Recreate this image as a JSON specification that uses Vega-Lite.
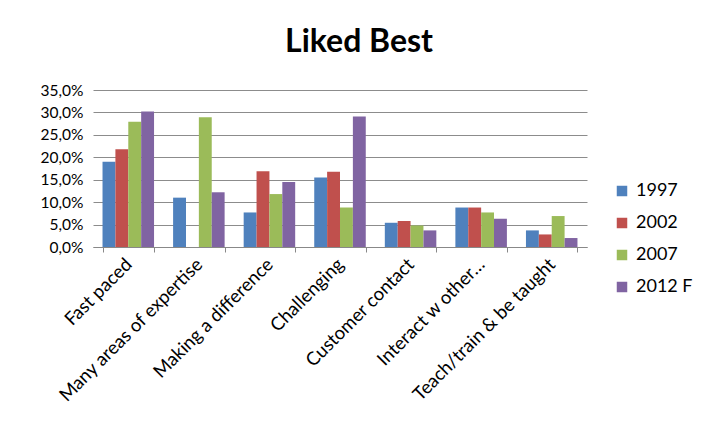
{
  "$schema": "https://vega.github.io/schema/vega-lite/v6.json",
  "width": 494,
  "height": 157,
  "autosize": {"type": "none"},
  "padding": {"left": 93, "top": 90, "right": 126, "bottom": 179},
  "background": "white",
  "config": {
    "font": "Lato",
    "view": {"stroke": null},
    "locale": {"number": {"decimal": ",", "thousands": ".", "grouping": [3], "currency": ["", " €"]}}
  },
  "title": {"text": "Liked Best", "fontSize": 32, "fontWeight": "bold", "font": "Lato", "color": "#000000", "offset": 24, "dx": 19},
  "data": {"values": [
    {"cat": "Fast paced", "year": "1997", "v": 0.190},
    {"cat": "Fast paced", "year": "2002", "v": 0.218},
    {"cat": "Fast paced", "year": "2007", "v": 0.279},
    {"cat": "Fast paced", "year": "2012 F", "v": 0.302},
    {"cat": "Many areas of expertise", "year": "1997", "v": 0.110},
    {"cat": "Many areas of expertise", "year": "2002", "v": 0.0},
    {"cat": "Many areas of expertise", "year": "2007", "v": 0.289},
    {"cat": "Many areas of expertise", "year": "2012 F", "v": 0.122},
    {"cat": "Making a difference", "year": "1997", "v": 0.077},
    {"cat": "Making a difference", "year": "2002", "v": 0.169},
    {"cat": "Making a difference", "year": "2007", "v": 0.118},
    {"cat": "Making a difference", "year": "2012 F", "v": 0.145},
    {"cat": "Challenging", "year": "1997", "v": 0.155},
    {"cat": "Challenging", "year": "2002", "v": 0.168},
    {"cat": "Challenging", "year": "2007", "v": 0.088},
    {"cat": "Challenging", "year": "2012 F", "v": 0.291},
    {"cat": "Customer contact", "year": "1997", "v": 0.054},
    {"cat": "Customer contact", "year": "2002", "v": 0.058},
    {"cat": "Customer contact", "year": "2007", "v": 0.048},
    {"cat": "Customer contact", "year": "2012 F", "v": 0.037},
    {"cat": "Interact w other…", "year": "1997", "v": 0.088},
    {"cat": "Interact w other…", "year": "2002", "v": 0.088},
    {"cat": "Interact w other…", "year": "2007", "v": 0.077},
    {"cat": "Interact w other…", "year": "2012 F", "v": 0.063},
    {"cat": "Teach/train & be taught", "year": "1997", "v": 0.037},
    {"cat": "Teach/train & be taught", "year": "2002", "v": 0.028},
    {"cat": "Teach/train & be taught", "year": "2007", "v": 0.069},
    {"cat": "Teach/train & be taught", "year": "2012 F", "v": 0.020}
  ]},
  "mark": {"type": "bar"},
  "encoding": {
    "x": {
      "field": "cat", "type": "nominal", "sort": null, "title": null,
      "scale": {"paddingInner": 0.27, "paddingOuter": 0.135},
      "axis": {"labelAngle": -45, "labelAlign": "right", "labelBaseline": "middle", "labelFontSize": 18.5, "labelColor": "#000000", "labelPadding": 9, "tickBand": "extent", "domainColor": "#888888", "tickColor": "#888888", "tickSize": 5, "labelLimit": 300}
    },
    "xOffset": {"field": "year", "type": "nominal", "scale": {"paddingInner": 0, "paddingOuter": 0}},
    "y": {
      "field": "v", "type": "quantitative", "title": null,
      "scale": {"domain": [0, 0.35], "nice": false},
      "axis": {"format": ".1%", "values": [0, 0.05, 0.1, 0.15, 0.2, 0.25, 0.3, 0.35], "labelFontSize": 15.5, "labelColor": "#000000", "domain": false, "ticks": false, "labelPadding": 10, "gridColor": "#8c8c8c", "gridWidth": 1}
    },
    "color": {
      "field": "year", "type": "nominal", "title": null,
      "scale": {"domain": ["1997", "2002", "2007", "2012 F"], "range": ["#4F81BD", "#C0504D", "#9BBB59", "#8064A2"]},
      "legend": {"orient": "none", "legendX": 520, "legendY": 92, "symbolType": "square", "symbolSize": 110, "symbolStrokeWidth": 0, "labelFontSize": 18, "labelColor": "#000000", "rowPadding": 14, "labelOffset": 5}
    }
  }
}
